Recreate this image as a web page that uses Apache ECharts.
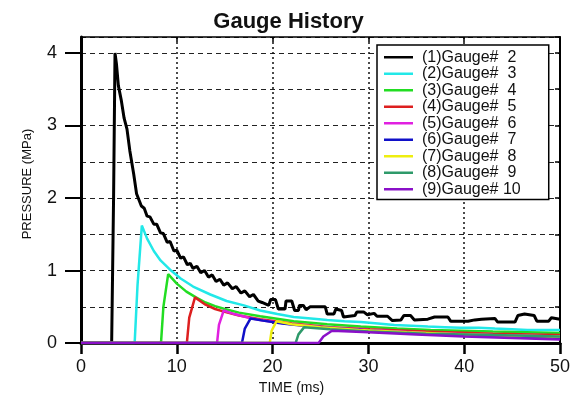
<!DOCTYPE html>
<html>
<head>
<meta charset="utf-8">
<script src="https://cdn.jsdelivr.net/npm/echarts@6/dist/echarts.min.js"></script>
<style>
  html, body { margin: 0; padding: 0; background: #fff; }
  #chart { width: 577px; height: 400px; }
</style>
</head>
<body>
<div id="chart"></div>
<script>
// gauge names and colours
var gaugeNames = ["(1)Gauge#  2", "(2)Gauge#  3", "(3)Gauge#  4", "(4)Gauge#  5", "(5)Gauge#  6",
  "(6)Gauge#  7", "(7)Gauge#  8", "(8)Gauge#  9", "(9)Gauge# 10"];
var gaugeColors = ["#000000", "#22e8e8", "#22dd22", "#dd1f1f", "#e020e0", "#1010c8", "#eeee10", "#2e9a6a", "#8a10c8"];

var xTicks = [0, 10, 20, 30, 40, 50];
var yTicks = [0, 1, 2, 3, 4];

// [time ms, pressure MPa]
var gauge2 = [[0, 0], [3.2, 0], [3.4, 2.0], [3.55, 4.0], [3.7, 3.85], [3.9, 3.55], [4.2, 3.35], [4.5, 3.1],
  [4.8, 2.95], [5.1, 2.65], [5.5, 2.33], [5.8, 2.06], [6.0, 2.05], [6.3, 1.89], [6.6, 1.86], [6.9, 1.75],
  [7.2, 1.74], [7.6, 1.64], [7.9, 1.64], [8.3, 1.52], [8.6, 1.51], [9.0, 1.39], [9.3, 1.40], [9.7, 1.27],
  [10.0, 1.28], [10.4, 1.17], [10.7, 1.19], [11.1, 1.08], [11.4, 1.10], [11.7, 1.03], [12.1, 1.06],
  [12.5, 0.97], [12.9, 1.00], [13.3, 0.91], [13.7, 0.94], [14.1, 0.85], [14.5, 0.88], [14.9, 0.80],
  [15.3, 0.83], [15.8, 0.75], [16.2, 0.78], [16.7, 0.69], [17.1, 0.72], [17.6, 0.64], [18.0, 0.67],
  [18.5, 0.58], [18.9, 0.56], [19.6, 0.52], [19.8, 0.60], [20.3, 0.60], [20.6, 0.47], [21.3, 0.47],
  [21.4, 0.58], [22.0, 0.58], [22.3, 0.45], [22.7, 0.45], [22.8, 0.52], [23.2, 0.52], [23.5, 0.46],
  [23.9, 0.50], [25.5, 0.50], [25.7, 0.40], [26.4, 0.40], [26.6, 0.47], [27.2, 0.45], [27.4, 0.36],
  [28.6, 0.38], [28.8, 0.43], [29.5, 0.43], [29.9, 0.39], [30.6, 0.41], [30.9, 0.37], [32.0, 0.37],
  [32.5, 0.31], [33.4, 0.32], [33.7, 0.38], [34.4, 0.38], [34.8, 0.32], [36.2, 0.33], [36.9, 0.36],
  [38.3, 0.36], [38.6, 0.30], [40.4, 0.30], [41.1, 0.32], [41.8, 0.33], [43.2, 0.34], [43.5, 0.29],
  [45.3, 0.29], [45.6, 0.38], [46.3, 0.40], [47.3, 0.38], [47.6, 0.30], [48.8, 0.30], [49.1, 0.35], [50, 0.33]];
var gauge3 = [[0, 0], [5.6, 0], [5.9, 0.8], [6.35, 1.62], [6.9, 1.44], [7.6, 1.27], [8.3, 1.14], [9.4, 1.0],
  [10.4, 0.89], [11.7, 0.78], [13.5, 0.67], [15.2, 0.58], [17.0, 0.52], [18.7, 0.45], [20.5, 0.40],
  [22.2, 0.36], [24.0, 0.34], [25.7, 0.32], [27.5, 0.30], [29.2, 0.29], [31.0, 0.27], [32.7, 0.25],
  [34.5, 0.24], [36.2, 0.23], [38.0, 0.22], [39.6, 0.21], [41.5, 0.21], [43.2, 0.20], [45.0, 0.19],
  [46.6, 0.18], [48.5, 0.18], [50, 0.18]];
var gauge4 = [[0, 0], [8.35, 0], [8.6, 0.5], [9.1, 0.95], [10.0, 0.82], [11.0, 0.71], [12.0, 0.63],
  [13.0, 0.56], [14.0, 0.51], [15.0, 0.47], [16.5, 0.42], [18.7, 0.37], [22.2, 0.30], [25.7, 0.26],
  [29.2, 0.23], [33.0, 0.20], [36.5, 0.18], [43.0, 0.16], [50, 0.14]];
var gauge5 = [[0, 0], [11.05, 0], [11.3, 0.35], [11.9, 0.63], [13.0, 0.53], [14.0, 0.47], [15.0, 0.43],
  [16.5, 0.38], [18.7, 0.33], [22.0, 0.27], [26.0, 0.22], [30.0, 0.19], [36.0, 0.16], [43.0, 0.13], [50, 0.11]];
var gauge6 = [[0, 0], [14.2, 0], [14.4, 0.25], [14.9, 0.45], [16.0, 0.40], [17.5, 0.35], [19.0, 0.31],
  [22.0, 0.26], [26.0, 0.21], [30.0, 0.18], [36.0, 0.14], [43.0, 0.11], [50, 0.09]];
var gauge7 = [[0, 0], [16.8, 0], [17.1, 0.2], [17.7, 0.34], [19.0, 0.31], [21.0, 0.27], [24.0, 0.23],
  [28.0, 0.19], [33.0, 0.15], [40.0, 0.11], [45.0, 0.08], [50, 0.06]];
var gauge8 = [[0, 0], [19.7, 0], [19.9, 0.17], [20.4, 0.30], [22.0, 0.26], [25.0, 0.22], [29.0, 0.18],
  [34.0, 0.15], [40.0, 0.12], [45.0, 0.10], [50, 0.09]];
var gauge9 = [[0, 0], [22.4, 0], [22.7, 0.12], [23.3, 0.22], [26.0, 0.19], [30.0, 0.16], [36.0, 0.13],
  [43.0, 0.11], [50, 0.09]];
var gauge10 = [[0, 0], [24.8, 0], [25.3, 0.09], [26.2, 0.17], [30.0, 0.15], [35.0, 0.12], [40.0, 0.09],
  [45.0, 0.07], [50, 0.05]];

var gauges = [gauge2, gauge3, gauge4, gauge5, gauge6, gauge7, gauge8, gauge9, gauge10];

var chart = echarts.init(document.getElementById("chart"));
var fontFam = "Liberation Sans, Arial, sans-serif";

var series = gauges.map(function (d, i) {
  return {
    name: gaugeNames[i],
    type: "line",
    xAxisIndex: 0,
    yAxisIndex: 0,
    data: d,
    showSymbol: false,
    symbol: "none",
    color: gaugeColors[i],
    lineStyle: { width: i === 0 ? 3 : 2.5, color: gaugeColors[i] },
    z: 3
  };
});

var option = {
  animation: false,
  backgroundColor: "#fff",
  title: {
    text: "Gauge History",
    left: "center",
    top: 6,
    textStyle: { fontFamily: fontFam, fontSize: 22, fontWeight: "bold", color: "#111" }
  },
  grid: { left: 81, right: 17, top: 37, bottom: 44 },
  legend: {
    orient: "vertical",
    left: 377,
    top: 45,
    icon: "rect",
    itemWidth: 29,
    itemHeight: 2.5,
    itemGap: 0,
    padding: [4, 28, 2, 7],
    backgroundColor: "#fff",
    borderColor: "#000",
    borderWidth: 1.5,
    data: gaugeNames,
    textStyle: { fontFamily: fontFam, fontSize: 16, lineHeight: 16.5, color: "#111", padding: [0, 0, 0, 4] }
  },
  xAxis: [{
    type: "value",
    position: "bottom",
    min: xTicks[0],
    max: xTicks[xTicks.length - 1],
    interval: 10,
    name: "TIME (ms)",
    nameLocation: "middle",
    nameGap: 29,
    nameTextStyle: { fontFamily: fontFam, fontSize: 14, color: "#111", padding: [0, 58, 0, 0] },
    axisLine: { show: true, onZero: false, lineStyle: { color: "#000", width: 3 } },
    axisTick: { show: true, inside: false, length: 11, lineStyle: { color: "#000", width: 2.5 } },
    axisLabel: { fontFamily: fontFam, fontSize: 18, color: "#111", margin: 15 },
    splitLine: { show: true, lineStyle: { color: "#111", width: 1.5, type: [2, 3] } }
  }, {
    type: "value",
    position: "top",
    min: xTicks[0],
    max: xTicks[xTicks.length - 1],
    interval: 10,
    axisLine: { show: true, onZero: false, lineStyle: { color: "#000", width: 1.5 } },
    axisTick: { show: true, inside: true, length: 5, lineStyle: { color: "#000", width: 1.5 } },
    axisLabel: { show: false },
    splitLine: { show: false }
  }],
  yAxis: [{
    type: "value",
    position: "left",
    min: 0,
    max: 4.22,
    interval: 1,
    name: "PRESSURE (MPa)",
    nameLocation: "middle",
    nameGap: 47,
    nameTextStyle: { fontFamily: fontFam, fontSize: 13, color: "#111", padding: [0, 0, 0, 12] },
    axisLine: { show: true, onZero: false, lineStyle: { color: "#000", width: 3 } },
    axisTick: { show: true, inside: false, length: 16, customValues: yTicks, lineStyle: { color: "#000", width: 2 } },
    axisLabel: { fontFamily: fontFam, fontSize: 18, color: "#111", margin: 24, customValues: yTicks },
    splitLine: { show: false }
  }, {
    type: "value",
    position: "right",
    min: 0,
    max: 4.22,
    interval: 0.5,
    axisLine: { show: true, onZero: false, lineStyle: { color: "#000", width: 2 } },
    axisTick: { show: true, inside: true, length: 5, lineStyle: { color: "#000", width: 1.5 } },
    axisLabel: { show: false },
    splitLine: { show: true, lineStyle: { color: "#222", width: 1.2, type: [5, 4] } }
  }],
  series: series
};

chart.setOption(option);
</script>
</body>
</html>
